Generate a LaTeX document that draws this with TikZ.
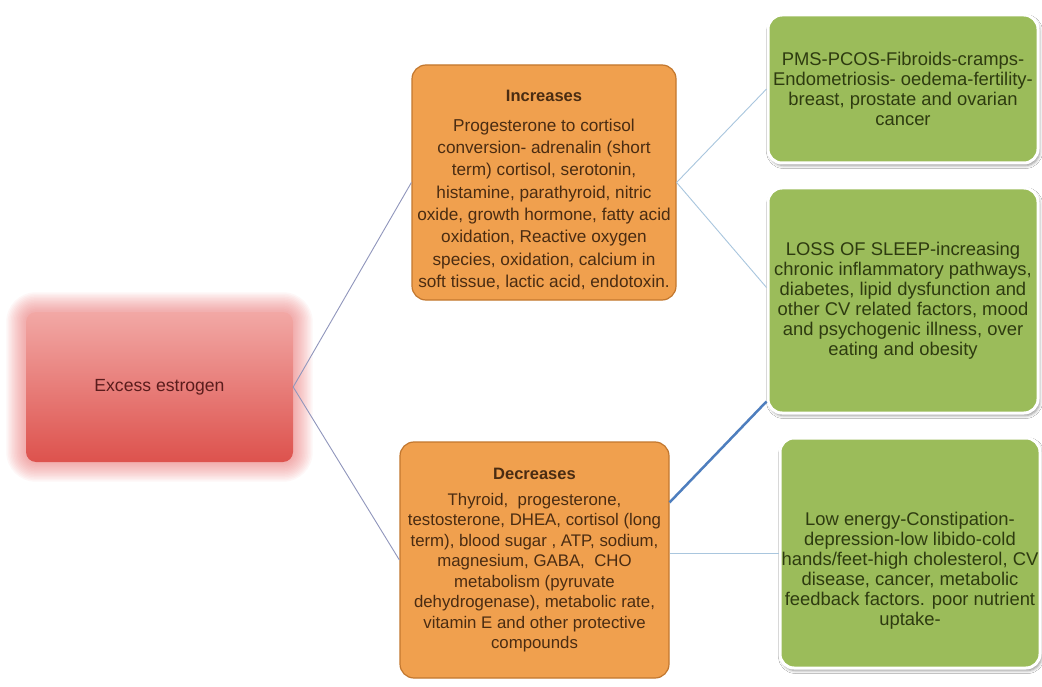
\documentclass[tikz,border=0pt]{standalone}
\usepackage{fontspec}
\setmainfont{Liberation Sans}
\usetikzlibrary{shadows.blur,backgrounds,calc}
\definecolor{orfill}{HTML}{F0A04E}
\definecolor{ordraw}{HTML}{C2772E}
\definecolor{ortext}{HTML}{4A2C12}
\definecolor{grfill}{HTML}{9BBC5A}
\definecolor{grtext}{HTML}{2E3B10}
\definecolor{redtop}{HTML}{F2A8A5}
\definecolor{redbot}{HTML}{DD524D}
\definecolor{redtext}{HTML}{5A1C1C}
\definecolor{glowc}{HTML}{F07070}
\definecolor{linkA}{HTML}{9096BC}
\definecolor{linkB}{HTML}{A9C6DE}
\definecolor{linkC}{HTML}{4E7EBE}
\tikzset{
  orbox/.style={draw=ordraw, line width=1.2pt, fill=orfill, rounded corners=14pt,
    text=ortext, align=center, inner sep=0pt},
  grbox/.style={draw=white, line width=3pt, fill=grfill, rounded corners=14pt,
    text=grtext, align=center, inner sep=0pt, font=\fontsize{18.4}{20}\selectfont,
    blur shadow={shadow xshift=1.5pt, shadow yshift=-2.5pt, shadow blur radius=3pt, shadow opacity=45}},
  redbox/.style={rounded corners=10pt, top color=redtop, bottom color=redbot,
    text=redtext, font=\fontsize{17.6}{20}\selectfont, inner sep=0pt},
  thinlink/.style={line width=0.9pt},
}
\begin{document}
\begin{tikzpicture}[x=1pt,y=-1pt]
\useasboundingbox (0,0) rectangle (1042,687);

\node[redbox, minimum width=267pt, minimum height=150pt] (red) at (159.5,387) {Excess estrogen};

\node[orbox, minimum width=264pt, minimum height=235pt, font=\fontsize{17.2}{22.3}\selectfont] (inc) at (544,182.5)
 {\mbox{}\\[3.5pt]{\fontsize{16.5}{22.3}\selectfont\bfseries Increases}\\[7.7pt]
  Progesterone to cortisol\\
  conversion- adrenalin (short\\
  term) cortisol, serotonin,\\
  histamine, parathyroid, nitric\\
  oxide, growth hormone, fatty acid\\
  oxidation, Reactive oxygen\\
  species, oxidation, calcium in\\
  soft tissue, lactic acid, endotoxin.};

\node[orbox, minimum width=269pt, minimum height=236pt, font=\fontsize{16.8}{20.5}\selectfont] (dec) at (534.5,560)
 {{\fontsize{16.5}{20.5}\selectfont\bfseries Decreases}\\[5.5pt]
  Thyroid,\ \ progesterone,\\
  testosterone, DHEA, cortisol (long\\
  term), blood sugar , ATP, sodium,\\
  magnesium, GABA,\ \ CHO\\
  metabolism (pyruvate\\
  dehydrogenase), metabolic rate,\\
  vitamin E and other protective\\
  compounds};

\node[grbox, minimum width=270pt, minimum height=148pt] (g1) at (903,89)
 {PMS-PCOS-Fibroids-cramps-\\
  Endometriosis- oedema-fertility-\\
  breast, prostate and ovarian\\
  cancer};

\node[grbox, minimum width=270pt, minimum height=225pt] (g2) at (903,300.5)
 {LOSS OF SLEEP-increasing\\
  chronic inflammatory pathways,\\
  diabetes, lipid dysfunction and\\
  other CV related factors, mood\\
  and psychogenic illness, over\\
  eating and obesity};

\node[grbox, minimum width=260pt, minimum height=230pt] (g3) at (910,553)
 {\mbox{}\\[29pt]Low energy-Constipation-\\
  depression-low libido-cold\\
  hands/feet-high cholesterol, CV\\
  disease, cancer, metabolic\\
  feedback factors. poor nutrient\\
  uptake-};

\begin{scope}[on background layer]
  \fill[white] (0,0) rectangle (1042,687);
  \foreach \d in {1.5,3,...,19.5} {
    \pgfmathsetmacro\rr{10+\d}
    \fill[glowc, opacity=0.055, rounded corners=\rr pt]
      ([shift={(-\d pt,\d pt)}]red.north west) rectangle ([shift={(\d pt,-\d pt)}]red.south east);
  }
\end{scope}

\draw[linkA, thinlink] (red.east) -- (inc.west);
\draw[linkA, thinlink] (red.east) -- (dec.west);
\draw[linkB, thinlink] (inc.east) -- (g1.west);
\draw[linkB, thinlink] (inc.east) -- ([yshift=13pt]g2.west);
\draw[linkC, line width=2.5pt] ([yshift=-61pt]dec.north east) -- ([yshift=13pt]g2.south west);
\draw[linkB, thinlink] (g3.west -| dec.east) -- (g3.west);
\end{tikzpicture}
\end{document}
